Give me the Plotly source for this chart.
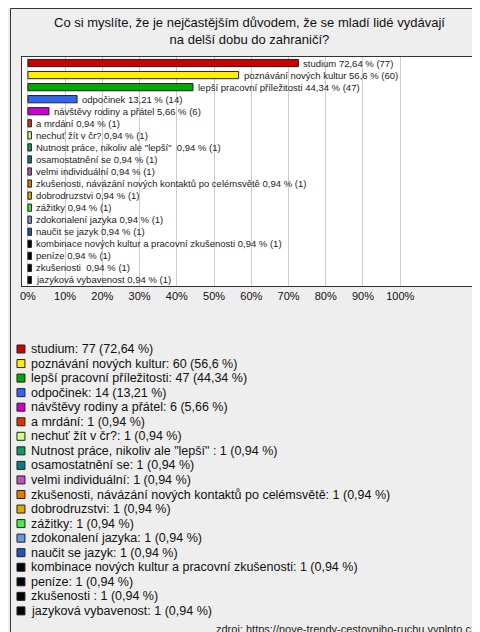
import plotly.graph_objects as go

categories = ["studium", "poznávání nových kultur", "lepší pracovní příležitosti", "odpočinek",
              "návštěvy rodiny a přátel", "a mrdání", "nechuť žít v čr?", "Nutnost práce, nikoliv ale \"lepší\" ",
              "osamostatnění se", "velmi individuální", "zkušenosti, návázání nových kontaktů po celémsvětě",
              "dobrodruzstvi", "zážitky", "zdokonalení jazyka", "naučit se jazyk",
              "kombinace nových kultur a pracovní zkušenosti", "peníze", "zkušenosti ", "jazyková vybavenost"]
counts = [77, 60, 47, 14, 6, 1, 1, 1, 1, 1, 1, 1, 1, 1, 1, 1, 1, 1, 1]
percents = [72.64, 56.6, 44.34, 13.21, 5.66] + [0.94] * 14
colors = ["#cc0000", "#ffee00", "#00aa00", "#3366ee", "#cc00cc", "#dd3300", "#ccff88", "#119966",
          "#117788", "#bb55bb", "#ee7700", "#ddaa00", "#44ee44", "#6699dd", "#2255bb",
          "#000000", "#000000", "#000000", "#000000"]

def fmt(p):
    s = "56,6" if p == 56.6 else f"{p:.2f}"
    return s.replace(".", ",")

bar_text = [f"{c} {fmt(p)} % ({n})" for c, p, n in zip(categories, percents, counts)]
leg_text = [f"{c}: {n} ({fmt(p)} %)" for c, p, n in zip(categories, percents, counts)]

W, H = 480, 632
ys = list(range(len(categories)))
fig = go.Figure(go.Bar(
    y=ys, x=percents, orientation="h",
    marker=dict(color=colors, line=dict(color="#222", width=1)), width=0.6,
))
anns = [dict(text="Co si myslíte, že je nejčastějším důvodem, že se mladí lidé vydávají<br>na delší dobu do zahraničí?",
             x=0.5, y=1-5/H, xref="paper", yref="paper", yanchor="top", showarrow=False,
             font=dict(size=13, color="#111")),
        dict(text="zdroj: https://nove-trendy-cestovniho-ruchu.vyplnto.cz", x=470/W, y=1-621/H,
             xref="paper", yref="paper", xanchor="right", yanchor="middle", showarrow=False,
             font=dict(size=11, color="#222"))]
for i, (t, p) in enumerate(zip(bar_text, percents)):
    anns.append(dict(text=t, x=p, y=i, xref="x", yref="y", xanchor="left", yanchor="middle",
                     xshift=3, showarrow=False, font=dict(size=9.5, color="#222")))
fig.update_layout(
    width=W, height=H, margin=dict(l=0, r=0, t=0, b=0),
    paper_bgcolor="#eeeeee", plot_bgcolor="white", showlegend=False,
    font=dict(family="Liberation Sans", color="#111"),
    xaxis=dict(domain=[12/W, 470/W], range=[-1.6, 120.9], tickvals=list(range(0, 101, 10)),
               ticktext=[f"{v}%" for v in range(0, 101, 10)], showgrid=True, gridcolor="#cccccc",
               zeroline=False, tickfont=dict(size=11), showline=True, linecolor="#333", mirror=True, ticks=""),
    yaxis=dict(domain=[1-278/H, 1-49/H], range=[len(categories)-0.5, -0.5], showticklabels=False,
               showgrid=False, showline=True, linecolor="#333", mirror=True, zeroline=False),
    annotations=anns,
    shapes=[dict(type="rect", xref="paper", yref="paper", x0=0.5/W, x1=1-0.5/W, y0=0.5/H, y1=1-0.5/H,
                 line=dict(color="#333", width=1))],
)
for i, (t, c) in enumerate(zip(leg_text, colors)):
    yc = 341 + i * 14.55
    fig.add_shape(type="rect", xref="paper", yref="paper", x0=7/W, x1=15/W,
                  y0=1-(yc+4)/H, y1=1-(yc-4)/H, fillcolor=c, line=dict(color="#222", width=1))
    fig.add_annotation(text=t, x=19/W, y=1-yc/H, xref="paper", yref="paper", xanchor="left",
                       yanchor="middle", showarrow=False, font=dict(size=12.5, color="#111"))
fig.write_html("out.html")
